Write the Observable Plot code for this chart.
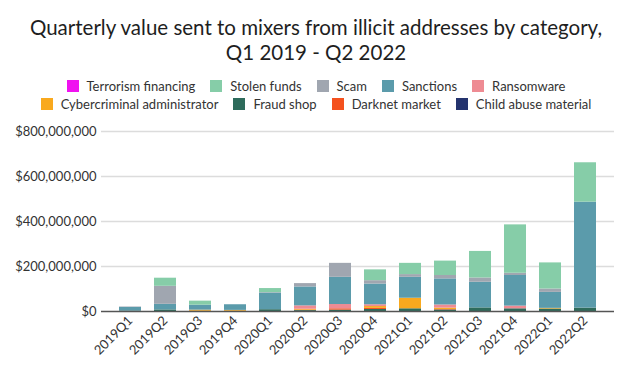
<!DOCTYPE html>
<html>
<head>
<meta charset="utf-8">
<script src="https://cdn.jsdelivr.net/npm/d3@7"></script>
<script src="https://cdn.jsdelivr.net/npm/@observablehq/plot@0.6"></script>
<style>
  html, body { margin: 0; padding: 0; background: #fff; }
  body { width: 632px; height: 380px; overflow: hidden; font-family: Lato, "Open Sans", sans-serif; color: #222; }
  #title { text-align: center; font-size: 20.5px; line-height: 25px; padding-top: 15px; height: 50px; color: #1e1e1e; }
  .legend { display: flex; justify-content: center; gap: 15px; font-size: 13px; color: #333; line-height: 18px; height: 18px; }
  .legend span.item { display: inline-flex; align-items: center; }
  .legend i { display: inline-block; width: 12px; height: 12px; margin-right: 8px; }
  #legend { margin-top: 12px; height: 36px; }
  #chart svg { display: block; }
</style>
</head>
<body>
<div id="title">Quarterly value sent to mixers from illicit addresses by category,<br>Q1 2019 - Q2 2022</div>
<div id="legend"></div>
<div id="chart"></div>
<script>
// Quarters on the x axis
const quarters = ["2019Q1","2019Q2","2019Q3","2019Q4","2020Q1","2020Q2","2020Q3","2020Q4",
                  "2021Q1","2021Q2","2021Q3","2021Q4","2022Q1","2022Q2"];

// Value sent to mixers per category, in millions of USD
const fraudShop       = [2, 7, 1, 1, 8, 4, 6, 9, 12, 7, 16, 12, 11, 15];
const childAbuse      = [0, 0, 0, 0, 0, 0, 0, 0, 0, 0, 0, 0, 0, 0];
const darknetMarket   = [0, 0, 0, 0, 0, 2, 6, 5, 0, 2, 0, 0, 0, 0];
const cyberAdmin      = [0, 0, 5, 4, 0, 4, 0, 8, 47, 6, 0, 0, 3, 0];
const ransomware      = [0, 0, 0, 0, 0, 15, 19, 8, 0, 14, 0, 12, 0, 0];
const sanctions       = [16, 25, 22, 25, 74, 84, 121, 92, 93, 116, 114, 136, 71, 471];
const scam            = [2, 80, 0, 0, 2, 15, 62, 15, 12, 15, 19, 10, 15, 0];
const stolenFunds     = [0, 36, 18, 0, 18, 0, 0, 48, 50, 64, 118, 215, 116, 175];
const terrorism       = [0, 0, 0, 0, 0, 0, 0, 0, 0, 0, 0, 0, 0, 0];

// Stack order, bottom to top
const stackOrder = ["Fraud shop", "Child abuse material", "Darknet market", "Cybercriminal administrator",
                    "Ransomware", "Sanctions", "Scam", "Stolen funds", "Terrorism financing"];
const seriesValues = [fraudShop, childAbuse, darknetMarket, cyberAdmin, ransomware, sanctions, scam, stolenFunds, terrorism];
const colors = ["#2e6b5b", "#24336e", "#f4511e", "#f9a91e", "#ee8b93", "#5b9bab", "#a0a6b0", "#86cda8", "#f012f0"];

// Legend rows as laid out above the chart
const legendRows = [
  ["Terrorism financing", "Stolen funds", "Scam", "Sanctions", "Ransomware"],
  ["Cybercriminal administrator", "Fraud shop", "Darknet market", "Child abuse material"]
];
const yTicks = [0, 200e6, 400e6, 600e6, 800e6];

const rows = [];
stackOrder.forEach((cat, i) => {
  quarters.forEach((q, j) => rows.push({quarter: q, category: cat, value: seriesValues[i][j] * 1e6}));
});

const colorOf = new Map(stackOrder.map((c, i) => [c, colors[i]]));
const legend = document.getElementById("legend");
legendRows.forEach(r => {
  const row = document.createElement("div");
  row.className = "legend";
  r.forEach(c => {
    const s = document.createElement("span");
    s.className = "item";
    s.innerHTML = `<i style="background:${colorOf.get(c)}"></i>${c}`;
    row.appendChild(s);
  });
  legend.appendChild(row);
});

const chart = Plot.plot({
  width: 632,
  height: 267,
  marginTop: 18,
  marginBottom: 69,
  marginLeft: 101,
  marginRight: 18,
  style: {fontFamily: "Lato, 'Open Sans', sans-serif", fontSize: "13px", color: "#333"},
  x: {domain: quarters, padding: 0.36, label: null, tickSize: 0, tickRotate: -45, tickPadding: 7},
  y: {domain: [0, 800e6], ticks: yTicks, tickFormat: d3.format("$,"), label: null, tickSize: 0, tickPadding: 5, grid: false},
  color: {domain: stackOrder, range: colors},
  marks: [
    Plot.ruleY(yTicks.filter(d => d > 0), {stroke: "#dcdcdc", strokeWidth: 1.5}),
    Plot.barY(rows, Plot.stackY({x: "quarter", y: "value", fill: "category", order: stackOrder})),
    Plot.ruleY([0], {stroke: "#555", strokeWidth: 1.5})
  ]
});
document.getElementById("chart").appendChild(chart);
</script>
</body>
</html>
